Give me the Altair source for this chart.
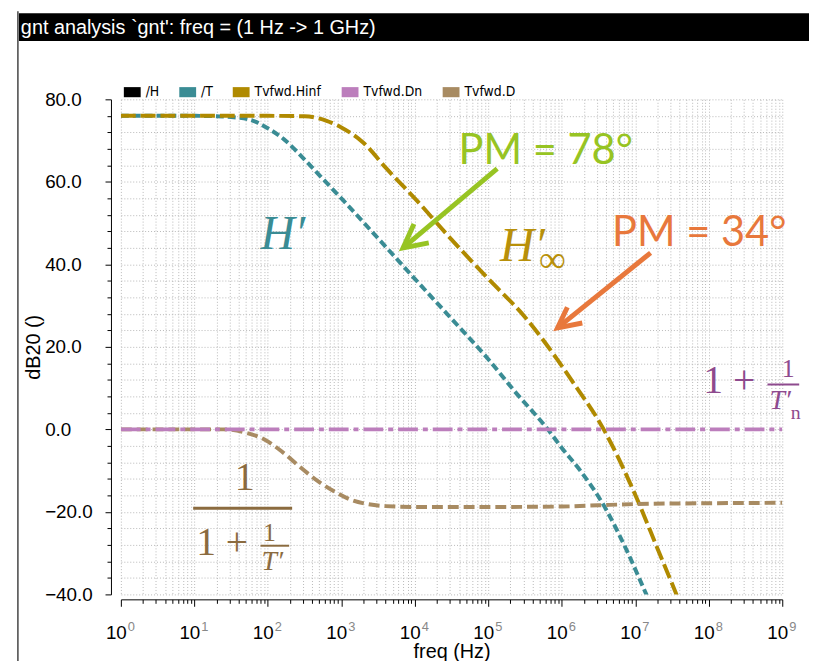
import altair as alt
import pandas as pd

TITLE = "gnt analysis `gnt': freq = (1 Hz -> 1 GHz)"
SERIES = ["/H", "/T", "Tvfwd.Hinf", "Tvfwd.Dn", "Tvfwd.D"]
COLORS = ["#000000", "#3A8C94", "#B08A00", "#BC7EBC", "#A88B62"]

# values: log10(freq / Hz) and dB20
T_exp = [0, 1.0, 1.5, 1.77, 2.0, 2.22, 2.49, 2.76, 3.0, 3.5, 4.0, 4.5, 5.0, 5.36, 5.81, 6.0, 6.26, 6.57, 6.885, 7.15, 7.25]
T_db = [76.0, 76.0, 75.7, 75.0, 73.0, 70.3, 65.6, 60.5, 56.0, 46.3, 36.5, 26.8, 17.0, 9.2, 0.0, -4.5, -10.2, -18.4, -29.4, -40.0, -44.0]
Hinf_exp = [0, 2.0, 2.5, 2.8, 3.0, 3.3, 3.6, 4.0, 4.5, 5.0, 5.5, 5.94, 6.13, 6.57, 7.02, 7.3, 7.56, 7.65]
Hinf_db = [76.0, 76.0, 75.9, 74.8, 73.2, 69.5, 63.5, 56.0, 46.0, 36.5, 27.2, 16.9, 12.0, 0.0, -16.7, -28.8, -40.0, -44.0]
Dn_exp = [0, 9]
Dn_db = [0.0, 0.0]
D_exp = [0, 1.4, 1.7, 1.96, 2.2, 2.43, 2.7, 2.9, 3.15, 3.36, 3.6, 4.06, 5.0, 6.0, 6.5, 7.0, 8.0, 9.0]
D_db = [0.0, 0.0, -0.8, -2.5, -5.5, -9.0, -12.8, -15.0, -17.2, -18.1, -18.6, -18.8, -18.8, -18.7, -18.4, -18.1, -17.9, -17.8]

DECADES = list(range(0, 10))
X_TICKS = [m * 10 ** k for k in range(0, 9) for m in range(1, 10)] + [10 ** 9]
Y_TICKS = list(range(-40, 81, 4))

SANS = "Liberation Sans, Arial, sans-serif"
NARROW = "Liberation Sans Narrow, DejaVu Sans Condensed, Arial Narrow, sans-serif"
SERIF = "Liberation Serif, DejaVu Serif, serif"
PMFONT = "Lato, Open Sans, sans-serif"


def series_df(exps, dbs, name):
    return pd.DataFrame({"freq": [10 ** e for e in exps], "db": dbs, "series": name})


is_decade = "abs(log(datum.value)/LN10 - round(log(datum.value)/LN10)) < 0.000001"

X = alt.X(
    "freq:Q",
    scale=alt.Scale(type="log", domain=[1, 1e9]),
    axis=alt.Axis(
        values=X_TICKS,
        title="freq (Hz)",
        titleFont=SANS, titleFontSize=20, titleFontWeight="normal", titleColor="black",
        titleY=59, titleBaseline="alphabetic",
        labels=False,
        tickSize={"condition": {"test": is_decade, "value": 7}, "value": 4},
        tickColor="black", domainColor="black", offset=5,
        grid=True, gridColor="#b8b8b8", gridDash=[1, 2], gridWidth=1,
    ),
)

Y = alt.Y(
    "db:Q",
    scale=alt.Scale(domain=[-40, 80], nice=False, zero=False),
    axis=alt.Axis(
        values=Y_TICKS,
        title="dB20 ()",
        titleFont=SANS, titleFontSize=20, titleFontWeight="normal", titleColor="black",
        titleX=-72, titleY=250, titleBaseline="alphabetic", titleAngle=270,
        labelExpr="datum.value % 20 == 0 ? format(datum.value, '.1f') : ''",
        labelFont=SANS, labelFontSize=19, labelColor="black",
        labelAlign="left", labelBaseline="middle", labelPadding=61,
        labelOverlap=False, labelFlush=False,
        tickSize={"condition": {"test": "datum.value % 20 == 0", "value": 6}, "value": 4},
        tickColor="black", domainColor="black", offset=10,
        grid=True, gridColor="#b8b8b8", gridDash=[1, 2], gridWidth=1,
    ),
)

STROKE = alt.Stroke("series:N", scale=alt.Scale(domain=SERIES, range=COLORS), legend=None)


def line(df, dash):
    return alt.Chart(df).mark_line(
        clip=True, strokeWidth=4, strokeDash=dash, strokeCap="butt", interpolate="monotone"
    ).encode(x=X, y=Y, stroke=STROKE)


lines = [
    line(series_df(T_exp, T_db, "/T"), [8, 4]),
    line(series_df(Hinf_exp, Hinf_db, "Tvfwd.Hinf"), [15, 5]),
    line(series_df(D_exp, D_db, "Tvfwd.D"), [11, 5]),
    line(series_df(Dn_exp, Dn_db, "Tvfwd.Dn"), [20, 5, 5, 5]),
]

# legend (filled rectangles), built from an off-scale clipped layer
legend_df = pd.DataFrame({"series": SERIES, "freq": [1e15] * 5, "db": [0.0] * 5})
legend_layer = alt.Chart(legend_df).mark_point(shape="square", filled=True, opacity=1, clip=True).encode(
    x=X, y=Y,
    color=alt.Color(
        "series:N", scale=alt.Scale(domain=SERIES, range=COLORS),
        legend=alt.Legend(
            orient="none", legendX=3, legendY=-16, direction="horizontal", title=None,
            symbolType="M-1,-0.6H1V0.6H-1Z", symbolSize=289, symbolStrokeWidth=0, symbolOpacity=1,
            labelFont=NARROW, labelFontSize=14, labelColor="black", labelOffset=5,
            columnPadding=20, padding=0,
        ),
    ),
)

# x tick labels: "10" with a grey exponent
exp_df = pd.DataFrame({"freq": [10 ** e for e in DECADES], "e": [str(e) for e in DECADES], "b": ["10"] * len(DECADES)})
bases = alt.Chart(exp_df).mark_text(
    align="right", baseline="alphabetic", dx=6, fontSize=19, font=SANS, color="black"
).encode(x=X, y=alt.value(545), text="b:N")
exponents = alt.Chart(exp_df).mark_text(
    align="left", baseline="alphabetic", dx=7, fontSize=13, font=SANS, color="#888888"
).encode(x=X, y=alt.value(537), text="e:N")

# window frame and title bar
tdf = pd.DataFrame({"t": [TITLE]})
title_bar = alt.Chart(tdf).mark_rect(color="black").encode(
    x=alt.value(-103), x2=alt.value(695), y=alt.value(-87), y2=alt.value(-59)
)
title_text = alt.Chart(tdf).mark_text(
    align="left", baseline="alphabetic", color="white", font=SANS, fontSize=20
).encode(x=alt.value(-101), y=alt.value(-66), text="t:N")
left_border = alt.Chart(tdf).mark_rule(color="#444444", strokeWidth=1.5).encode(
    x=alt.value(-104), y=alt.value(-89), y2=alt.value(575)
)


def label(rows, **kw):
    df = pd.DataFrame(rows, columns=["freq", "db", "txt"])
    return alt.Chart(df).mark_text(baseline="alphabetic", **kw).encode(x=X, y=Y, text="txt:N")


def bar(f1, f2, db, color, width):
    df = pd.DataFrame({"freq": [f1], "freq2": [f2], "db": [db]})
    return alt.Chart(df).mark_rule(color=color, strokeWidth=width).encode(x=X, x2="freq2:Q", y=Y)


def arrow(pts, color):
    # pts: shaft start, tip, arm1, arm2  (freq, dB)
    s, t, a1, a2 = pts
    df = pd.DataFrame({
        "freq": [s[0], t[0], a1[0], t[0], a2[0]],
        "db": [s[1], t[1], a1[1], t[1], a2[1]],
        "part": ["shaft", "shaft", "head", "head", "head"],
        "k": [0, 1, 0, 1, 2],
    })
    return alt.Chart(df).mark_line(color=color, strokeWidth=5, strokeCap="butt", strokeJoin="miter").encode(
        x=X, y=Y, detail="part:N", order="k:Q"
    )


GREEN = "#97C423"
ORANGE = "#E8783C"
TEAL_T = "#3A8C94"
GOLD_T = "#B8900A"
PURPLE_T = "#8E4A8E"
TAN_T = "#8B6B3F"

annotations = [
    label([(3.93e4, 64.4, "PM = 78°")], align="left", font=PMFONT, fontSize=42, color=GREEN),
    label([(4.82e6, 44.5, "PM = 34°")], align="left", font=PMFONT, fontSize=42, color=ORANGE),
    arrow([(1.32e5, 63.2), (6918, 44.0), (9727, 49.8), (15490, 45.2)], GREEN),
    arrow([(1.615e7, 42.8), (8.75e5, 24.6), (1.19e6, 29.6), (1.90e6, 25.8)], ORANGE),
    label([(79.4, 43.8, "H′")], align="left", font=SERIF, fontSize=48, fontStyle="italic", color=TEAL_T),
    label([(1.446e5, 40.9, "H′")], align="left", font=SERIF, fontSize=48, fontStyle="italic", color=GOLD_T),
    label([(4.9e5, 38.2, "∞")], align="left", font=SERIF, fontSize=38, color=GOLD_T),
    # 1 + 1/T'n
    label([(8.4e7, 8.8, "1 +")], align="left", font=SERIF, fontSize=40, color=PURPLE_T),
    label([(1.2e9, 12.8, "1")], align="center", font=SERIF, fontSize=26, color=PURPLE_T),
    bar(6.29e8, 1.70e9, 10.9, PURPLE_T, 2),
    label([(6.68e8, 4.9, "T′")], align="left", font=SERIF, fontSize=28, fontStyle="italic", color=PURPLE_T),
    label([(1.3e9, 2.4, "n")], align="left", font=SERIF, fontSize=20, color=PURPLE_T),
    # 1 / (1 + 1/T')
    label([(48.3, -14.8, "1")], align="center", font=SERIF, fontSize=40, color=TAN_T),
    bar(9.63, 214, -19.1, TAN_T, 3),
    label([(10.57, -30.4, "1 +")], align="left", font=SERIF, fontSize=40, color=TAN_T),
    label([(105, -27.0, "1")], align="center", font=SERIF, fontSize=26, color=TAN_T),
    bar(79.4, 195, -28.2, TAN_T, 2),
    label([(81.9, -34.2, "T′")], align="left", font=SERIF, fontSize=28, fontStyle="italic", color=TAN_T),
]

chart = alt.layer(
    title_bar, title_text, left_border, *lines, legend_layer, bases, exponents, *annotations
).resolve_scale(color="independent", stroke="independent").properties(
    width=668, height=500,
    autosize=alt.AutoSizeParams(type="none"),
    padding={"left": 114, "top": 89, "right": 27, "bottom": 64},
    background="white",
).configure_view(stroke=None)

chart.save("out.html", embed_options={"renderer": "svg", "actions": False})
